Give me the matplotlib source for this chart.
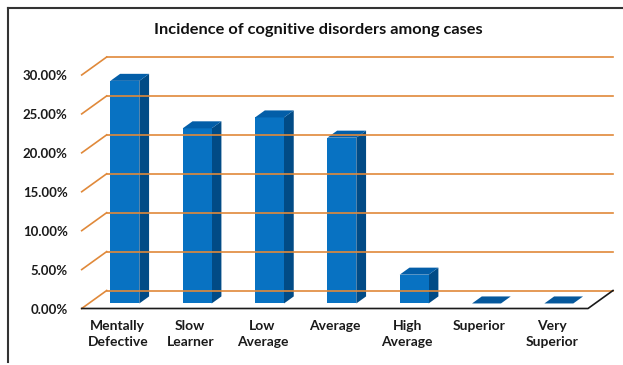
import numpy as np
import matplotlib
matplotlib.use('Agg')
import matplotlib.pyplot as plt
from matplotlib.patches import Polygon
from matplotlib.lines import Line2D

categories = ['Mentally\nDefective', 'Slow\nLearner', 'Low\nAverage', 'Average',
              'High\nAverage', 'Superior', 'Very\nSuperior']
incidence = [28.6, 22.5, 23.9, 21.3, 3.7, 0.0, 0.0]
y_ticks = [0, 5, 10, 15, 20, 25, 30]
tick_labels = ['%.2f%%' % t for t in y_ticks]
title = 'Incidence of cognitive disorders among cases'

plt.rcParams['font.family'] = ['Lato', 'DejaVu Sans']

W, H = 623, 365
fig = plt.figure(figsize=(W / 100, H / 100), dpi=100)
# front plane of the 3d box
ax = fig.add_axes([81.7 / W, (H - 308.5) / H, (588 - 81.7) / W, (308.5 - 75) / H])
ax.set_xlim(-0.5, len(categories) - 0.5)
ax.set_ylim(0, 30)
ax.axis('off')

depth = np.array([25.0, 18.0])  # pixel offset from front plane to back wall
bar_front, bar_back = 0.28, 0.67
half_w = 0.2

grid_col = '#E0893A'
front_col = '#0872C2'
side_col = '#014B86'
top_col = '#035EA8'


def shift(x, y, frac):
    p = ax.transData.transform((x, y)) + frac * depth
    return ax.transData.inverted().transform(p)


x0, x1 = -0.5, len(categories) - 0.5

# back wall gridlines with their diagonals on the left side wall
for t in y_ticks:
    b0 = shift(x0, t, 1)
    b1 = shift(x1, t, 1)
    ax.add_line(Line2D([x0, b0[0]], [t, b0[1]], color=grid_col, lw=1.2, clip_on=False))
    ax.add_line(Line2D([b0[0], b1[0]], [b0[1], b1[1]], color=grid_col, lw=1.2, clip_on=False))

# floor front edge and right diagonal
br = shift(x1, 0, 1)
ax.add_line(Line2D([x0, x1, br[0]], [0, 0, br[1]], color='#1a1a1a', lw=1.2, clip_on=False))

# bars: front, side and top faces
for i, v in enumerate(incidence):
    l, r = i - half_w, i + half_w
    fl_b, fr_b = shift(l, 0, bar_front), shift(r, 0, bar_front)
    fl_t, fr_t = shift(l, v, bar_front), shift(r, v, bar_front)
    bl_t, br_t = shift(l, v, bar_back), shift(r, v, bar_back)
    br_b = shift(r, 0, bar_back)
    if v > 0:
        ax.add_patch(Polygon([fr_b, br_b, br_t, fr_t], closed=True, fc=side_col, ec='none', clip_on=False))
        ax.add_patch(Polygon([fl_b, fr_b, fr_t, fl_t], closed=True, fc=front_col, ec='none', clip_on=False))
        ax.add_patch(Polygon([fl_t, fr_t, br_t, bl_t], closed=True, fc=top_col, ec='none', clip_on=False))
    else:
        ax.add_patch(Polygon([fl_t, fr_t, br_t, bl_t], closed=True, fc='#05589C', ec='none', clip_on=False))

# value axis labels at the front plane
for t, lab in zip(y_ticks, tick_labels):
    ax.annotate(lab, (x0, t), xytext=(-14, -1), textcoords='offset pixels',
                ha='right', va='center', fontsize=9.5, fontweight='bold', color='#1a1a1a')

# category labels
for i, lab in enumerate(categories):
    ax.annotate(lab, (i, 0), xytext=(0, -12), textcoords='offset pixels',
                ha='center', va='top', fontsize=10, fontweight='bold', color='#1a1a1a',
                linespacing=1.4)

fig.text(318 / W, 1 - 30 / H, title, ha='center', va='center',
         fontsize=11.8, fontweight='bold', color='#111111')

# chart frame
fig.add_artist(Line2D([8 / W, 8 / W], [1 - 362 / H, 1 - 8 / H], color='#333333', lw=1.5))
fig.add_artist(Line2D([8 / W, 1.0], [1 - 8 / H, 1 - 8 / H], color='#333333', lw=1.5))

fig.savefig('out.png', dpi=100)
